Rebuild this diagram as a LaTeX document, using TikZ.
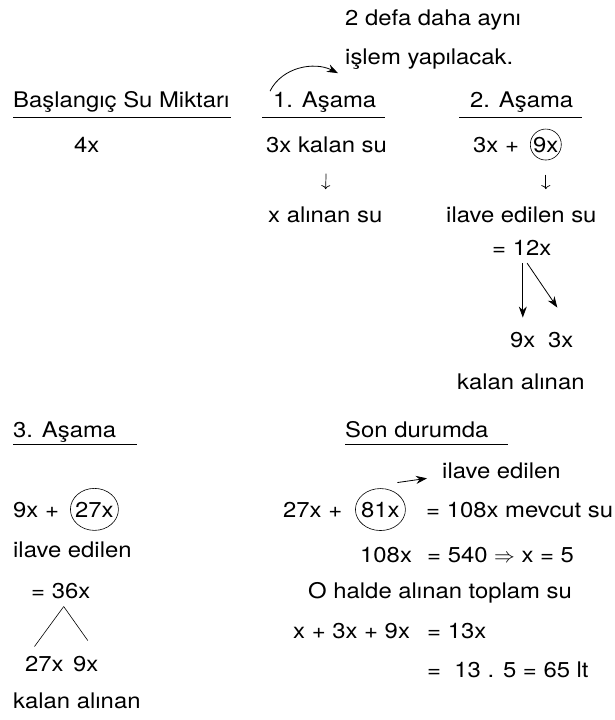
\documentclass[tikz,border=0pt]{standalone}
\usepackage{fontspec}
\setmainfont[FakeStretch=1.11]{TeX Gyre Heros}
\usetikzlibrary{arrows.meta,positioning}

\begin{document}
\begin{tikzpicture}[x=1pt, y=-1pt,
txt/.style={inner sep=0pt, anchor=base west, font=\fontsize{21.5}{25}\selectfont},
rule/.style={line width=0.9pt},
ring/.style={line width=0.6pt},
flow/.style={-{Stealth[length=11pt,width=8pt]}, line width=0.8pt},
down/.style={-{To[length=4pt,width=9pt]}, line width=0.7pt}
]
\useasboundingbox (0,0) rectangle (614,720);
\node[txt] (note1) at (345,25) {2 defa daha aynı};
\node[txt] (note2) at (345,64) {işlem yapılacak.};
\node[txt] (hdr0) at (13,107) {Başlangıç Su Miktarı};
\node[txt] (hdr1) at (273,107) {1. Aşama};
\node[txt] (hdr2) at (470,107) {2. Aşama};
\draw[rule] (13,117) -- (231,117);
\draw[rule] (262,117) -- (385,117);
\draw[rule] (459,117) -- (582,117);
\draw[flow] ([xshift=-3pt]hdr1.north west) .. controls +(12,-24) and +(-24,-12) .. ([shift={(-7,4)}]note2.south west);
\node[txt] (start) at (74,152) {4x};
\node[txt] (kalan1) at (266,152) {3x kalan su};
\node[txt] (plus2) at (473,152) {3x +};
\node[txt] (c9) at (533,152) {9x};
\draw[ring] (c9.center) circle[radius=15.5pt];
\node[txt] (alinan1) at (268,222) {x alınan su};
\node[txt] (ilave2) at (446,222) {ilave edilen su};
\draw[down, shorten <=21pt, shorten >=17pt] (kalan1.south) -- (alinan1.north);
\draw[down, shorten <=22pt, shorten >=17pt] (c9.south) -- (c9.south |- ilave2.north);
\node[txt] (total2) at (492,255) {= 12x};
\node[txt] (s9) at (510,347) {9x};
\node[txt] (s3) at (548,347) {3x};
\draw[flow, shorten <=8pt, shorten >=14pt] (total2.south -| s9.north) -- (s9.north);
\draw[flow, shorten <=9.6pt, shorten >=29pt] (total2.south) -- (s3.north east);
\node[txt] (kal2) at (457,389) {kalan alınan};
\node[txt] (hdr3) at (13,437) {3. Aşama};
\node[txt] (hdr4) at (345,437) {Son durumda};
\draw[rule] (13,444) -- (137,444);
\draw[rule] (345,444) -- (508,444);
\node[txt] (ilave4) at (442,478) {ilave edilen};
\node[txt] (plus3) at (13,517) {9x +};
\node[txt] (c27) at (75,517) {27x};
\draw[ring] (c27.center) ellipse[x radius=24pt, y radius=21pt];
\node[txt] (plus4) at (283,517) {27x +};
\node[txt] (c81) at (361,517) {81x};
\draw[ring] (c81.center) ellipse[x radius=25pt, y radius=21pt];
\node[txt] (mevcut) at (426,517) {= 108x mevcut su};
\draw[flow] ([shift={(17,-27)}]c81.center) -- ([shift={(-15,8)}]ilave4.west);
\node[txt] (ilave3) at (13,557) {ilave edilen};
\node[txt] (x108) at (360,562) {108x};
\node[txt] (sol) at (427,562) {= 540 $\Rightarrow$ x = 5};
\node[txt] (total3) at (31,598) {= 36x};
\node[txt] (halde) at (308,598) {O halde alınan toplam su};
\coordinate (apex) at ([shift={(3,8)}]total3.south);
\node[txt] (s27) at (25,671) {27x};
\node[txt] (s9b) at (73,671) {9x};
\draw[ring] (apex) -- ([shift={(-10,-9)}]s27.north);
\draw[ring] (apex) -- ([shift={(2,-15)}]s9b.north);
\node[txt] (sum) at (293,638) {x + 3x + 9x};
\node[txt] (r13) at (427,638) {= 13x};
\node[txt] (r65) at (427,677) {=\ \ 13 . 5 = 65 lt};
\node[txt] (kal3) at (13,708) {kalan alınan};
\end{tikzpicture}
\end{document}
